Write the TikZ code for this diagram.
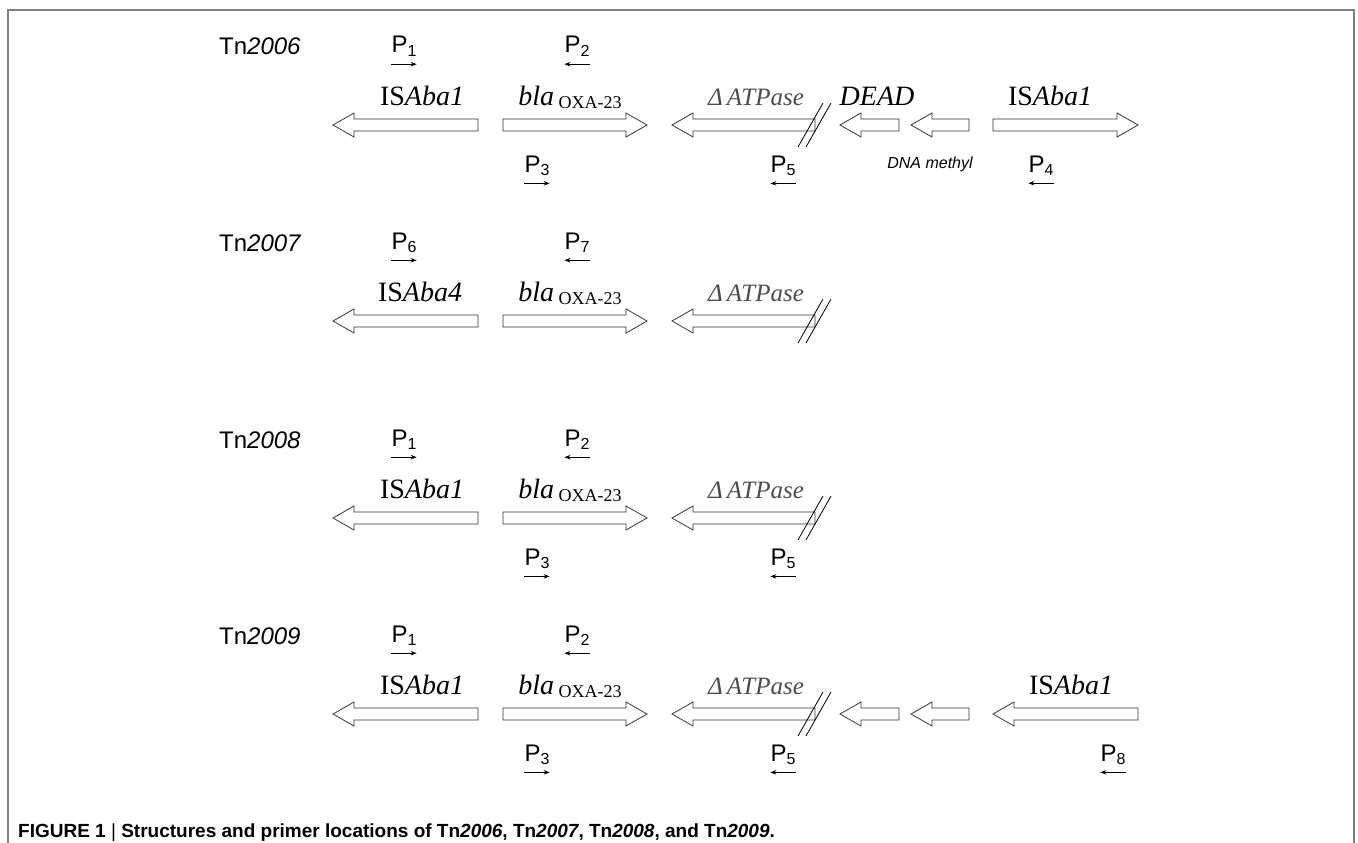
\documentclass[tikz,border=0pt]{standalone}
\usepackage{fontspec}
\setmainfont{Liberation Serif}
\setsansfont{Liberation Sans}
\usetikzlibrary{arrows.meta}

\tikzset{
  gene/.style={draw=black!80, line width=0.8pt, fill=white},
  primer/.style={-{Stealth[length=6pt,width=4.5pt]}, line width=1pt},
  tnname/.style={font=\sffamily\fontsize{24}{28}\selectfont, anchor=base west, inner sep=0pt},
  primername/.style={font=\sffamily\fontsize{24}{26}\selectfont, anchor=base, inner sep=0pt},
  genename/.style={font=\fontsize{28}{32}\selectfont, anchor=base, inner sep=0pt},
  truncname/.style={font=\fontsize{25}{30}\selectfont\itshape, text=black!70, anchor=base, inner sep=0pt},
  cutmark/.style={line width=0.8pt},
  frameline/.style={draw=black!50, line width=2pt},
}

% gene arrows: #1 = y of the axis, #2 = left end, #3 = right end
\newcommand{\generight}[3]{%
  \draw[gene] (#2,#1-6) -- (#3-21,#1-6) -- (#3-21,#1-12) -- (#3,#1)
    -- (#3-21,#1+12) -- (#3-21,#1+6) -- (#2,#1+6) -- cycle;}
\newcommand{\geneleft}[3]{%
  \draw[gene] (#3,#1-6) -- (#2+21,#1-6) -- (#2+21,#1-12) -- (#2,#1)
    -- (#2+21,#1+12) -- (#2+21,#1+6) -- (#3,#1+6) -- cycle;}
% break mark on a truncated gene
\newcommand{\genecut}[2]{%
  \draw[cutmark] (#1-12,#2+22) -- (#1+13,#2-22);
  \draw[cutmark] (#1-4,#2+22) -- (#1+21,#2-22);}
\newcommand{\Pn}[1]{P\raisebox{-3pt}{\fontsize{16}{16}\selectfont #1}}
\newcommand{\blaoxa}{\textit{bla}\,\raisebox{-3pt}{\fontsize{18}{18}\selectfont OXA-23}}

\begin{document}
\begin{tikzpicture}[x=1pt,y=-1pt]
\useasboundingbox (0,0) rectangle (1358,843);
\draw[frameline] (8,843) -- (8,10) -- (1354,10) -- (1354,843);

% Tn2006
\node[tnname] (tn2006) at (219,55) {Tn\textit{2006}};
\geneleft{125}{333}{478}
\generight{125}{503}{647}
\geneleft{125}{672}{815}
\genecut{810}{125}
\geneleft{125}{840}{899}
\geneleft{125}{911}{969}
\generight{125}{993}{1138}
\node[genename] (isa1-a) at (422,105) {IS\textit{Aba1}};
\node[genename] (bla-a) at (570,105) {\blaoxa};
\node[truncname] (atp-a) at (756,105) {Δ\,ATPase};
\node[genename] (dead-a) at (877,105) {\textit{DEAD}};
\node[genename] (isa1-a2) at (1050,105) {IS\textit{Aba1}};
\node[font=\sffamily\itshape\fontsize{16}{18}\selectfont, anchor=base, inner sep=0pt] (dnam-a) at (930,168) {DNA methyl};
\node[primername] (p1-a) at (404,53) {\Pn{1}};
\node[primername] (p2-a) at (577,53) {\Pn{2}};
\node[primername] (p3-a) at (537,172) {\Pn{3}};
\node[primername] (p5-a) at (783,172) {\Pn{5}};
\node[primername] (p4-a) at (1041,172) {\Pn{4}};
\draw[primer] ([yshift=-8pt]p1-a.south west) -- ([yshift=-8pt]p1-a.south east);
\draw[primer] ([yshift=-8pt]p2-a.south east) -- ([yshift=-8pt]p2-a.south west);
\draw[primer] ([yshift=-8pt]p3-a.south west) -- ([yshift=-8pt]p3-a.south east);
\draw[primer] ([yshift=-8pt]p5-a.south east) -- ([yshift=-8pt]p5-a.south west);
\draw[primer] ([yshift=-8pt]p4-a.south east) -- ([yshift=-8pt]p4-a.south west);

% Tn2007
\node[tnname] (tn2007) at (219,251) {Tn\textit{2007}};
\geneleft{321}{333}{478}
\generight{321}{503}{647}
\geneleft{321}{672}{815}
\genecut{810}{321}
\node[genename] (isa4-b) at (420,301) {IS\textit{Aba4}};
\node[genename] (bla-b) at (570,301) {\blaoxa};
\node[truncname] (atp-b) at (756,301) {Δ\,ATPase};
\node[primername] (p6-b) at (404,249) {\Pn{6}};
\node[primername] (p7-b) at (577,249) {\Pn{7}};
\draw[primer] ([yshift=-8pt]p6-b.south west) -- ([yshift=-8pt]p6-b.south east);
\draw[primer] ([yshift=-8pt]p7-b.south east) -- ([yshift=-8pt]p7-b.south west);

% Tn2008
\node[tnname] (tn2008) at (219,448) {Tn\textit{2008}};
\geneleft{518}{333}{478}
\generight{518}{503}{647}
\geneleft{518}{672}{815}
\genecut{810}{518}
\node[genename] (isa1-c) at (422,498) {IS\textit{Aba1}};
\node[genename] (bla-c) at (570,498) {\blaoxa};
\node[truncname] (atp-c) at (756,498) {Δ\,ATPase};
\node[primername] (p1-c) at (404,446) {\Pn{1}};
\node[primername] (p2-c) at (577,446) {\Pn{2}};
\node[primername] (p3-c) at (537,565) {\Pn{3}};
\node[primername] (p5-c) at (783,565) {\Pn{5}};
\draw[primer] ([yshift=-8pt]p1-c.south west) -- ([yshift=-8pt]p1-c.south east);
\draw[primer] ([yshift=-8pt]p2-c.south east) -- ([yshift=-8pt]p2-c.south west);
\draw[primer] ([yshift=-8pt]p3-c.south west) -- ([yshift=-8pt]p3-c.south east);
\draw[primer] ([yshift=-8pt]p5-c.south east) -- ([yshift=-8pt]p5-c.south west);

% Tn2009
\node[tnname] (tn2009) at (219,644) {Tn\textit{2009}};
\geneleft{714}{333}{478}
\generight{714}{503}{647}
\geneleft{714}{672}{815}
\genecut{810}{714}
\geneleft{714}{840}{899}
\geneleft{714}{911}{969}
\geneleft{714}{993}{1138}
\node[genename] (isa1-d) at (422,694) {IS\textit{Aba1}};
\node[genename] (bla-d) at (570,694) {\blaoxa};
\node[truncname] (atp-d) at (756,694) {Δ\,ATPase};
\node[genename] (isa1-d2) at (1071,694) {IS\textit{Aba1}};
\node[primername] (p1-d) at (404,642) {\Pn{1}};
\node[primername] (p2-d) at (577,642) {\Pn{2}};
\node[primername] (p3-d) at (537,761) {\Pn{3}};
\node[primername] (p5-d) at (783,761) {\Pn{5}};
\node[primername] (p8-d) at (1113,761) {\Pn{8}};
\draw[primer] ([yshift=-8pt]p1-d.south west) -- ([yshift=-8pt]p1-d.south east);
\draw[primer] ([yshift=-8pt]p2-d.south east) -- ([yshift=-8pt]p2-d.south west);
\draw[primer] ([yshift=-8pt]p3-d.south west) -- ([yshift=-8pt]p3-d.south east);
\draw[primer] ([yshift=-8pt]p5-d.south east) -- ([yshift=-8pt]p5-d.south west);
\draw[primer] ([yshift=-8pt]p8-d.south east) -- ([yshift=-8pt]p8-d.south west);

\node[font=\sffamily\bfseries\fontsize{19}{22}\selectfont, anchor=base west, inner sep=0pt] (caption) at (18,837)
  {FIGURE 1 {\mdseries|} Structures and primer locations of Tn\textit{2006}, Tn\textit{2007}, Tn\textit{2008}, and Tn\textit{2009}.};
\end{tikzpicture}
\end{document}
